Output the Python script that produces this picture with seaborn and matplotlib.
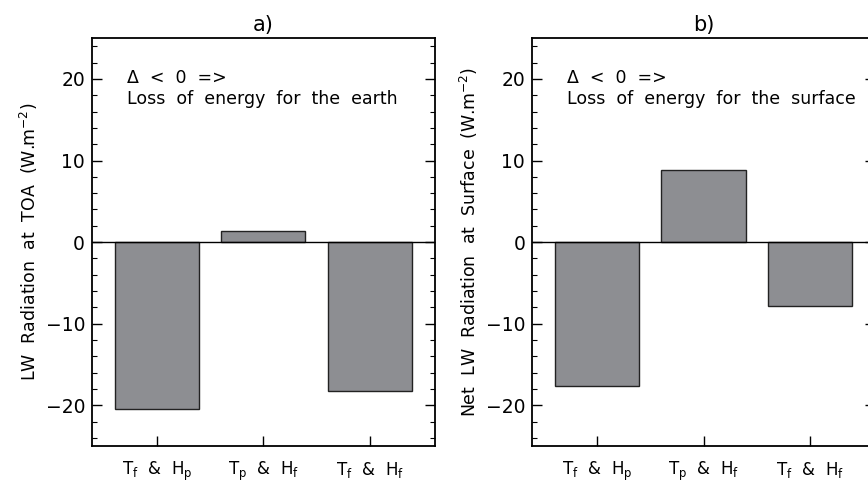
import numpy as np
import pandas as pd
import matplotlib
matplotlib.use("Agg")
import matplotlib.pyplot as plt
import seaborn as sns

cases = [r"T$_\mathregular{f}$  &  H$_\mathregular{p}$",
         r"T$_\mathregular{p}$  &  H$_\mathregular{f}$",
         r"T$_\mathregular{f}$  &  H$_\mathregular{f}$"]
toa_lw = [-20.5, 1.35, -18.3]
surf_lw = [-17.7, 8.8, -7.8]

titles = ["a)", "b)"]
ylabels = [r"LW  Radiation  at  TOA  (W.m$^{-2}$)",
           r"Net  LW  Radiation  at  Surface  (W.m$^{-2}$)"]
notes = ["\u0394  <  0  =>\nLoss  of  energy  for  the  earth",
         "\u0394  <  0  =>\nLoss  of  energy  for  the  surface"]

sns.set_style("ticks")
plt.rcParams['font.family'] = ['DejaVu Sans']
plt.rcParams['text.color'] = 'black'
plt.rcParams['axes.labelcolor'] = 'black'
plt.rcParams['xtick.color'] = 'black'
plt.rcParams['ytick.color'] = 'black'

fig = plt.figure(figsize=(8.68, 4.82), dpi=100)
ax1 = fig.add_axes([0.106, 0.0747, 0.395, 0.846])
ax2 = fig.add_axes([0.613, 0.0747, 0.395, 0.846])

for ax, vals, title, ylab, note in zip([ax1, ax2], [toa_lw, surf_lw], titles, ylabels, notes):
    df = pd.DataFrame({"case": cases, "value": vals})
    sns.barplot(data=df, x="case", y="value", ax=ax, color="#8d8e92",
                saturation=1, width=0.79, edgecolor="#222222", linewidth=1)
    ax.axhline(0, color="black", lw=1)
    ax.set_xlim(-0.61, 2.61)
    ax.set_ylim(-25, 25)
    ax.set_yticks([-20, -10, 0, 10, 20])
    ax.set_yticks(np.arange(-24, 25, 2), minor=True)
    ax.tick_params(axis="y", which="both", direction="in", left=True, right=True, labelsize=13.5)
    ax.tick_params(axis="y", which="major", length=7, width=1, pad=5)
    ax.tick_params(axis="y", which="minor", length=3.5, width=0.8)
    ax.tick_params(axis="x", which="major", direction="in", length=7, width=1,
                   labelsize=12, pad=10)
    ax.set_xlabel("")
    ax.set_ylabel(ylab, fontsize=12.5, labelpad=4)
    ax.set_title(title, fontsize=15, pad=5)
    for s in ax.spines.values():
        s.set_linewidth(1.3)
        s.set_color("black")
    ax.text(0.102, 0.925, note, transform=ax.transAxes, ha="left", va="top",
            fontsize=12.5, linespacing=1.2)

fig.savefig("out.png", dpi=100)
